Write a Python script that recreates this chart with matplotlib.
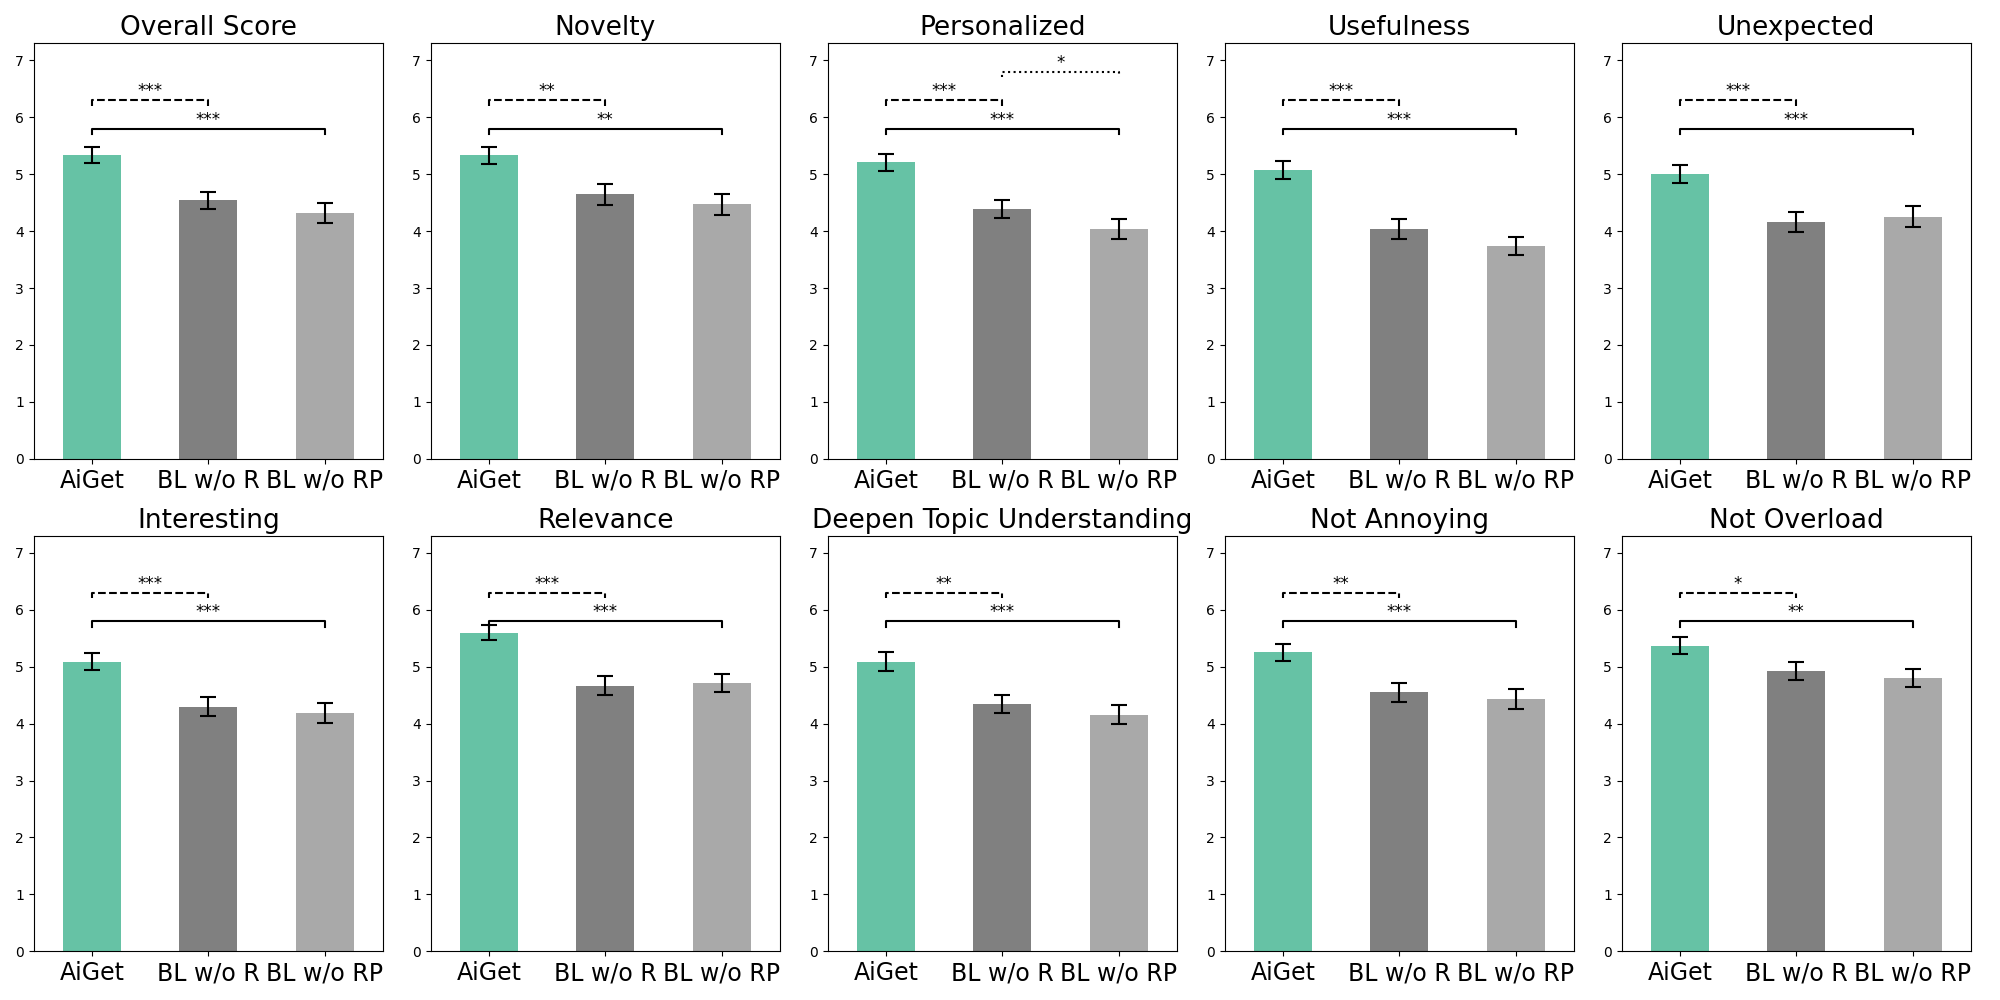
import numpy as np
import matplotlib
matplotlib.use("Agg")
import matplotlib.pyplot as plt

conditions = ["AiGet", "BL w/o R", "BL w/o RP"]
colors = ["#66c2a5", "#808080", "#a9a9a9"]

metrics = ["Overall Score", "Novelty", "Personalized", "Usefulness", "Unexpected",
           "Interesting", "Relevance", "Deepen Topic Understanding", "Not Annoying", "Not Overload"]

means = {
    "Overall Score": [5.33, 4.54, 4.32],
    "Novelty": [5.33, 4.65, 4.47],
    "Personalized": [5.21, 4.39, 4.04],
    "Usefulness": [5.07, 4.04, 3.74],
    "Unexpected": [5.00, 4.16, 4.25],
    "Interesting": [5.09, 4.30, 4.18],
    "Relevance": [5.60, 4.67, 4.71],
    "Deepen Topic Understanding": [5.09, 4.35, 4.16],
    "Not Annoying": [5.25, 4.55, 4.43],
    "Not Overload": [5.37, 4.92, 4.80],
}

sems = {
    "Overall Score": [0.14, 0.15, 0.18],
    "Novelty": [0.155, 0.185, 0.19],
    "Personalized": [0.15, 0.155, 0.17],
    "Usefulness": [0.155, 0.17, 0.16],
    "Unexpected": [0.155, 0.17, 0.185],
    "Interesting": [0.155, 0.165, 0.175],
    "Relevance": [0.135, 0.165, 0.16],
    "Deepen Topic Understanding": [0.16, 0.16, 0.17],
    "Not Annoying": [0.155, 0.165, 0.175],
    "Not Overload": [0.15, 0.155, 0.165],
}

# (group a, group b, label, linestyle, height)
sig_marks = {
    "Overall Score": [(0, 1, "***", "--", 6.3), (0, 2, "***", "-", 5.8)],
    "Novelty": [(0, 1, "**", "--", 6.3), (0, 2, "**", "-", 5.8)],
    "Personalized": [(0, 1, "***", "--", 6.3), (0, 2, "***", "-", 5.8), (1, 2, "*", ":", 6.8)],
    "Usefulness": [(0, 1, "***", "--", 6.3), (0, 2, "***", "-", 5.8)],
    "Unexpected": [(0, 1, "***", "--", 6.3), (0, 2, "***", "-", 5.8)],
    "Interesting": [(0, 1, "***", "--", 6.3), (0, 2, "***", "-", 5.8)],
    "Relevance": [(0, 1, "***", "--", 6.3), (0, 2, "***", "-", 5.8)],
    "Deepen Topic Understanding": [(0, 1, "**", "--", 6.3), (0, 2, "***", "-", 5.8)],
    "Not Annoying": [(0, 1, "**", "--", 6.3), (0, 2, "***", "-", 5.8)],
    "Not Overload": [(0, 1, "*", "--", 6.3), (0, 2, "**", "-", 5.8)],
}


def draw_bracket(ax, x1, x2, y, label, ls, tip=0.1):
    ax.plot([x1, x1, x2, x2], [y - tip, y, y, y - tip], color="black", lw=1.5, ls=ls)
    ax.text((x1 + x2) / 2, y, label, ha="center", va="bottom", fontsize=12)


fig, axes = plt.subplots(2, 5, figsize=(20, 10), dpi=100)
x = np.arange(len(conditions))

for ax, metric in zip(axes.flat, metrics):
    ax.bar(x, means[metric], width=0.5, color=colors, yerr=sems[metric],
           capsize=6, error_kw={"elinewidth": 1.5, "capthick": 1.5})
    for a, b, label, ls, h in sig_marks[metric]:
        draw_bracket(ax, a, b, h, label, ls)
    ax.set_ylim(0, 7.3)
    ax.set_xlim(-0.5, 2.5)
    ax.set_xticks(x)
    ax.set_xticklabels(conditions, fontsize=17)
    ax.set_title(metric, fontsize=19)

plt.tight_layout()
plt.savefig("out.png")
